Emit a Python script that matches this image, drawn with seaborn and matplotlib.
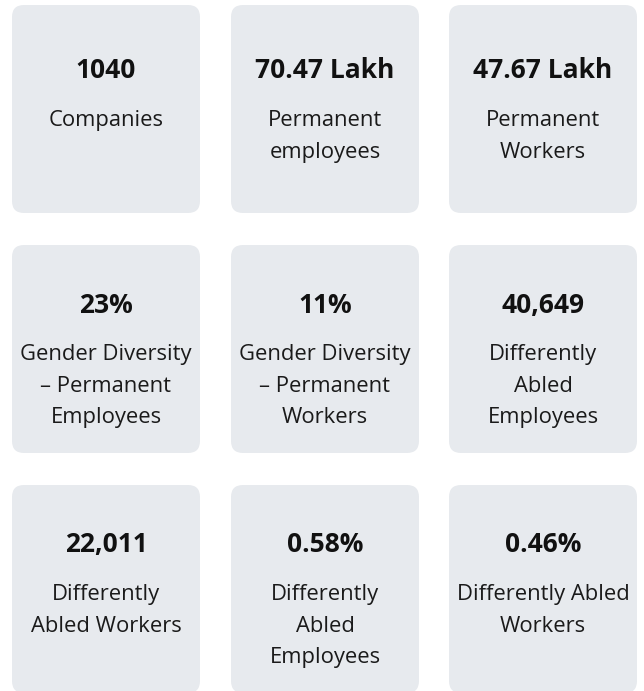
import matplotlib
matplotlib.use("Agg")
import matplotlib.pyplot as plt
from matplotlib.patches import FancyBboxPatch
import seaborn as sns

sns.set_style("white")
plt.rcParams['font.family'] = ['Open Sans', 'DejaVu Sans']

# values and captions of the nine cards
values = ['1040', '70.47 Lakh', '47.67 Lakh',
          '23%', '11%', '40,649',
          '22,011', '0.58%', '0.46%']
labels = ['Companies', 'Permanent\nemployees', 'Permanent\nWorkers',
          'Gender Diversity\n\u2013 Permanent\nEmployees', 'Gender Diversity\n\u2013 Permanent\nWorkers',
          'Differently\nAbled\nEmployees',
          'Differently\nAbled Workers', 'Differently\nAbled\nEmployees', 'Differently Abled\nWorkers']

fig = plt.figure(figsize=(6.44, 6.91), dpi=100)
ax = fig.add_axes([0, 0, 1, 1])
ax.set_xlim(0, 644)
ax.set_ylim(691, 0)
ax.axis('off')

col_left = [12, 231, 449]
row_top = [5, 245, 485]
value_base = [78, 313, 552]
label_base = [126, 360, 600]
card_w, card_h = 188, 208

for i, (val, lab) in enumerate(zip(values, labels)):
    r, c = divmod(i, 3)
    x0, y0 = col_left[c], row_top[r]
    box = FancyBboxPatch((x0 + 12, y0 + 12), card_w - 24, card_h - 24,
                         boxstyle="round,pad=12", fc='#e7eaee', ec='none')
    ax.add_patch(box)
    cx = x0 + card_w / 2
    ax.text(cx, value_base[r], val, ha='center', va='baseline', fontsize=19,
            fontweight='bold', color='#111111')
    for k, line in enumerate(lab.split('\n')):
        ax.text(cx, label_base[r] + 31.5 * k, line, ha='center', va='baseline',
                fontsize=15.8, color='#1a1a1a')

fig.savefig('out.png', dpi=100)
